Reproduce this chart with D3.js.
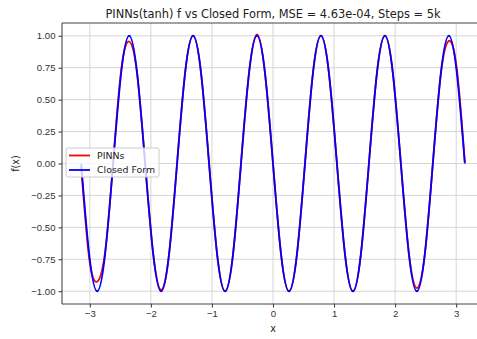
<!DOCTYPE html>
<html>
<head>
<meta charset="utf-8">
<script src="https://cdn.jsdelivr.net/npm/d3@7"></script>
<style>
  body { margin: 0; background: #fff; }
  svg { display: block; font-family: "DejaVu Sans", sans-serif; }
  .tick text { fill: #333; font-size: 9.6px; }
  .tick line { stroke: #333; }
</style>
</head>
<body>
<svg id="chart" width="477" height="339"></svg>
<script>
// sample points (1/8 period apart)
const xs = [-3.142, -3.011, -2.880, -2.749, -2.618, -2.487, -2.356, -2.225, -2.094, -1.963,
  -1.833, -1.702, -1.571, -1.440, -1.309, -1.178, -1.047, -0.916, -0.785, -0.654,
  -0.524, -0.393, -0.262, -0.131, 0, 0.131, 0.262, 0.393, 0.524, 0.654,
  0.785, 0.916, 1.047, 1.178, 1.309, 1.440, 1.571, 1.702, 1.833, 1.963,
  2.094, 2.225, 2.356, 2.487, 2.618, 2.749, 2.880, 3.011, 3.142]

const closedForm = [0, -0.707, -1, -0.707, 0, 0.707, 1, 0.707, 0, -0.707,
  -1, -0.707, 0, 0.707, 1, 0.707, 0, -0.707, -1, -0.707,
  0, 0.707, 1, 0.707, 0, -0.707, -1, -0.707, 0, 0.707,
  1, 0.707, 0, -0.707, -1, -0.707, 0, 0.707, 1, 0.707,
  0, -0.707, -1, -0.707, 0, 0.707, 1, 0.707, 0]

const pinns = [-0.02, -0.74, -0.925, -0.69, 0.01, 0.73, 0.955, 0.70, 0, -0.70,
  -0.99, -0.71, 0, 0.707, 1.0, 0.707, 0, -0.707, -1.0, -0.707,
  0, 0.707, 1.01, 0.707, 0, -0.707, -1.0, -0.707, 0, 0.707,
  1.0, 0.707, 0, -0.707, -1.0, -0.707, 0, 0.707, 1.0, 0.707,
  0, -0.70, -0.975, -0.71, 0, 0.70, 0.96, 0.74, 0.01]

const xTicks = [-3, -2, -1, 0, 1, 2, 3]
const yTicks = [-1, -0.75, -0.5, -0.25, 0, 0.25, 0.5, 0.75, 1]

const series = [
  { name: 'PINNs', values: pinns, color: '#ff0000' },
  { name: 'Closed Form', values: closedForm, color: '#0000ff' },
]

// SIZES (axes run past the right edge, as in the reference crop)
const margin = { top: 23, left: 62 }
const plotW = 422
const plotH = 281

const svg = d3.select('#chart')
const chart = svg.append('g').attr('transform', `translate(${margin.left},${margin.top})`)

const pad = (Math.PI * 2) * 0.05
const x = d3.scaleLinear().domain([-Math.PI - pad, Math.PI + pad]).range([0, plotW])
const y = d3.scaleLinear().domain([-1.1, 1.1]).range([plotH, 0])

// GRIDLINES
chart.selectAll('line.vgrid')
  .data(xTicks)
  .join('line')
  .attr('class', 'vgrid')
  .attr('x1', d => x(d)).attr('x2', d => x(d))
  .attr('y1', 0).attr('y2', plotH)
  .attr('stroke', '#d6d6d6').attr('stroke-width', 1)

chart.selectAll('line.hgrid')
  .data(yTicks)
  .join('line')
  .attr('class', 'hgrid')
  .attr('x1', 0).attr('x2', plotW)
  .attr('y1', d => y(d)).attr('y2', d => y(d))
  .attr('stroke', '#d6d6d6').attr('stroke-width', 1)

// LINES
const line = d3.line()
  .x((d, i) => x(xs[i]))
  .y(d => y(d))
  .curve(d3.curveNatural)

chart.selectAll('path.series')
  .data(series)
  .join('path')
  .attr('class', 'series')
  .attr('d', d => line(d.values))
  .attr('fill', 'none')
  .attr('stroke', d => d.color)
  .attr('stroke-width', 1.8)

// AXES
const fmtMinus = s => s.replace('-', '\u2212')
const xAxis = d3.axisBottom(x).tickValues(xTicks).tickSize(3.5).tickPadding(3)
  .tickFormat(d => fmtMinus(d3.format('d')(d)))
const yAxis = d3.axisLeft(y).tickValues(yTicks).tickSize(3.5).tickPadding(3)
  .tickFormat(d => fmtMinus(d3.format('.2f')(d)))

const gx = chart.append('g').attr('transform', `translate(0,${plotH})`).call(xAxis)
const gy = chart.append('g').call(yAxis)
gx.select('.domain').remove()
gy.select('.domain').remove()
gx.selectAll('text').attr('font-size', null)
gy.selectAll('text').attr('font-size', null)
svg.selectAll('.tick line').attr('stroke', '#333')

// spines (right one falls outside the crop)
const spine = [[0, 0, 0, plotH], [0, plotH, plotW, plotH], [0, 0, plotW, 0]]
chart.selectAll('line.spine')
  .data(spine)
  .join('line')
  .attr('class', 'spine')
  .attr('x1', d => d[0]).attr('y1', d => d[1])
  .attr('x2', d => d[2]).attr('y2', d => d[3])
  .attr('stroke', '#444').attr('stroke-width', 1.1)

// TITLE + LABELS
svg.append('text')
  .attr('x', margin.left + plotW / 2).attr('y', 18)
  .attr('text-anchor', 'middle')
  .attr('font-size', 11.4).attr('fill', '#222')
  .text('PINNs(tanh) f vs Closed Form, MSE = 4.63e-04, Steps = 5k')

svg.append('text')
  .attr('x', margin.left + x(0)).attr('y', 332)
  .attr('text-anchor', 'middle')
  .attr('font-size', 9.6).attr('fill', '#222')
  .text('x')

svg.append('text')
  .attr('transform', `translate(19,${margin.top + y(0)}) rotate(-90)`)
  .attr('text-anchor', 'middle')
  .attr('font-size', 9.6).attr('fill', '#222')
  .text('f(x)')

// LEGEND
const legend = svg.append('g').attr('transform', 'translate(66,148)')
legend.append('rect')
  .attr('width', 93).attr('height', 29).attr('rx', 2)
  .attr('fill', 'rgba(255,255,255,0.8)')
  .attr('stroke', '#cccccc').attr('stroke-width', 1)

const item = legend.selectAll('g.item')
  .data(series)
  .join('g')
  .attr('class', 'item')
  .attr('transform', (d, i) => `translate(0,${7.5 + i * 14.5})`)

item.append('line')
  .attr('x1', 3).attr('x2', 24)
  .attr('stroke', d => d.color).attr('stroke-width', 1.8)

item.append('text')
  .attr('x', 31).attr('dy', '0.35em')
  .attr('font-size', 9.4).attr('fill', '#222')
  .text(d => d.name)
</script>
</body>
</html>
